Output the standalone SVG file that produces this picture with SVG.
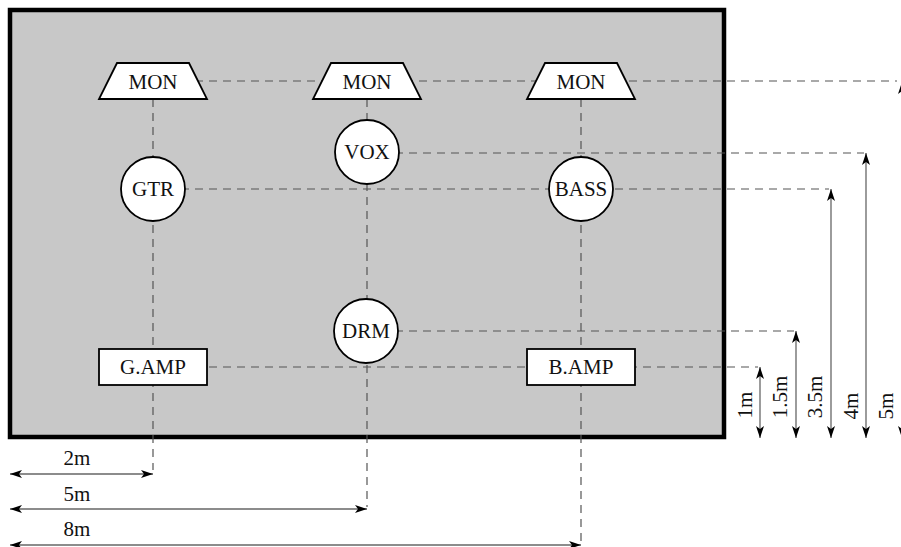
<svg xmlns="http://www.w3.org/2000/svg" width="901" height="547" viewBox="0 0 901 547">
<style>
.dash{stroke:#555;stroke-width:1.2;stroke-dasharray:8,6;fill:none}
.dim{stroke:#666;stroke-width:1.3;fill:none;marker-start:url(#ah);marker-end:url(#ah)}
.node{fill:#fff;stroke:#000;stroke-width:1.8}
text{font-family:"Liberation Serif","Times New Roman",serif;font-size:21px;fill:#111;text-anchor:middle}
</style>
<defs>
<marker id="ah" viewBox="0 0 12 8" markerWidth="12" markerHeight="8" refX="12" refY="4" orient="auto-start-reverse" markerUnits="userSpaceOnUse">
<path d="M0,0 L12,4 L0,8 L3,4 Z" fill="#000"/>
</marker>
</defs>
<rect x="10" y="10" width="714" height="427" fill="#c8c8c8" stroke="#000" stroke-width="4.5"/>
<g id="connectors">
<line class="dash" x1="153" y1="81" x2="897" y2="81"/>
<line class="dash" x1="367" y1="153" x2="864" y2="153"/>
<line class="dash" x1="153" y1="189" x2="829" y2="189"/>
<line class="dash" x1="367" y1="331" x2="794" y2="331"/>
<line class="dash" x1="153" y1="367" x2="758" y2="367"/>
<line class="dash" x1="153" y1="99" x2="153" y2="470"/>
<line class="dash" x1="367" y1="99" x2="367" y2="507"/>
<line class="dash" x1="581" y1="99" x2="581" y2="543"/>
<line class="dim" x1="10" y1="474" x2="153" y2="474"/>
<line class="dim" x1="10" y1="509" x2="367" y2="509"/>
<line class="dim" x1="10" y1="545" x2="581" y2="545"/>
<line class="dim" x1="760" y1="367" x2="760" y2="438"/>
<line class="dim" x1="796" y1="331" x2="796" y2="438"/>
<line class="dim" x1="831" y1="189" x2="831" y2="438"/>
<line class="dim" x1="866" y1="153" x2="866" y2="438"/>
<line class="dim" x1="902" y1="82" x2="902" y2="438"/>
</g>
<g id="dim-labels">
<text x="77" y="465">2m</text>
<text x="77" y="501">5m</text>
<text x="77" y="536">8m</text>
<text transform="translate(745,405) rotate(-90)" dy="7">1m</text>
<text transform="translate(780,397) rotate(-90)" dy="7">1.5m</text>
<text transform="translate(815,397) rotate(-90)" dy="7">3.5m</text>
<text transform="translate(851,406) rotate(-90)" dy="7">4m</text>
<text transform="translate(886,406) rotate(-90)" dy="7">5m</text>
</g>
<g id="mon1"><polygon class="node" points="117,63 189,63 207,99 99,99"/><text x="153" y="89">MON</text></g>
<g id="mon2"><polygon class="node" points="331,63 403,63 421,99 313,99"/><text x="367" y="89">MON</text></g>
<g id="mon3"><polygon class="node" points="545,63 617,63 635,99 527,99"/><text x="581" y="89">MON</text></g>
<g id="vox"><circle class="node" cx="367" cy="152" r="32"/><text x="367" y="159">VOX</text></g>
<g id="gtr"><circle class="node" cx="153" cy="189" r="32"/><text x="153" y="196">GTR</text></g>
<g id="bass"><circle class="node" cx="581" cy="189" r="32"/><text x="581" y="196">BASS</text></g>
<g id="drm"><circle class="node" cx="366" cy="331" r="32"/><text x="366" y="338">DRM</text></g>
<g id="gamp"><rect class="node" x="99" y="349" width="108" height="36"/><text x="153" y="374">G.AMP</text></g>
<g id="bamp"><rect class="node" x="527" y="349" width="108" height="36"/><text x="581" y="374">B.AMP</text></g>
</svg>
